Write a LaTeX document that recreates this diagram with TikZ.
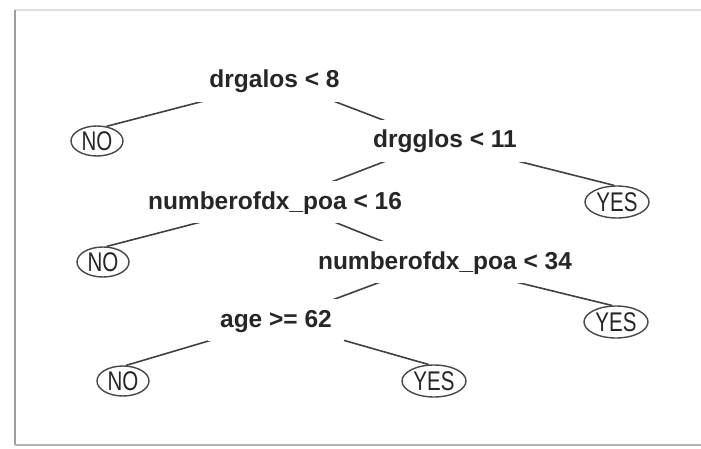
\documentclass[tikz,border=0pt]{standalone}
\usepackage{fontspec}
\setmainfont{Liberation Sans}
\newfontfamily\leaffont[FakeStretch=0.76]{Liberation Sans}
\usetikzlibrary{shapes.geometric,backgrounds}
\begin{document}
\begin{tikzpicture}[x=1pt,y=-1pt,
  split/.style={font=\bfseries\fontsize{24.5pt}{24.5pt}\selectfont, fill=white, inner xsep=12pt, inner ysep=0pt, text height=28pt, text depth=14pt, anchor=base, text=black!85},
  leaf/.style={ellipse, draw=black!72, line width=1.4pt, inner sep=0pt, font=\leaffont\fontsize{27pt}{27pt}\selectfont, text=black!85},
  noleaf/.style={leaf, minimum width=52pt, minimum height=30pt},
  yesleaf/.style={leaf, minimum width=64pt, minimum height=32pt},
  edge/.style={draw=black!75, line width=1.6pt},
  frameline/.style={line width=2pt}]
\useasboundingbox (0,0) rectangle (701,449);
% branch points
\coordinate (b1) at (281,81);
\coordinate (b2) at (438,141);
\coordinate (b3) at (282,201);
\coordinate (b4) at (434,262);
\coordinate (b5) at (276,321);
% split labels
\node[split] (s1) at (274.5,88) {drgalos < 8};
\node[split] (s2) at (445,148) {drgglos < 11};
\node[split] (s3) at (275,209) {numberofdx\_poa < 16};
\node[split] (s4) at (445,269) {numberofdx\_poa < 34};
\node[split] (s5) at (276,327) {age >= 62};
% leaves
\node[noleaf]  (no1)  at (97,141)  {NO};
\node[yesleaf] (yes1) at (617,202) {YES};
\node[noleaf]  (no2)  at (103,262) {NO};
\node[yesleaf] (yes2) at (616,322) {YES};
\node[noleaf]  (no3)  at (123,381) {NO};
\node[yesleaf] (yes3) at (434,381) {YES};
\begin{pgfonlayer}{background}
  \fill[white] (0,0) rectangle (701,449);
  \draw[frameline, draw=black!12] (15,10) -- (701,10);
  \draw[frameline, draw=black!38] (15,10) -- (15,445);
  \draw[frameline, draw=black!30] (15,445) -- (701,445);
  \draw[edge] (b1) -- (no1.57);
  \draw[edge] (b1) -- (b2);
  \draw[edge] (b2) -- (b3);
  \draw[edge] (b2) -- (yes1.100);
  \draw[edge] (b3) -- (no2.77);
  \draw[edge] (b3) -- (b4);
  \draw[edge] (b4) -- (b5);
  \draw[edge] (b4) -- (yes2.104);
  \draw[edge] (b5) -- (no3.79);
  \draw[edge] (b5) -- (yes3.108);
\end{pgfonlayer}
\end{tikzpicture}
\end{document}
